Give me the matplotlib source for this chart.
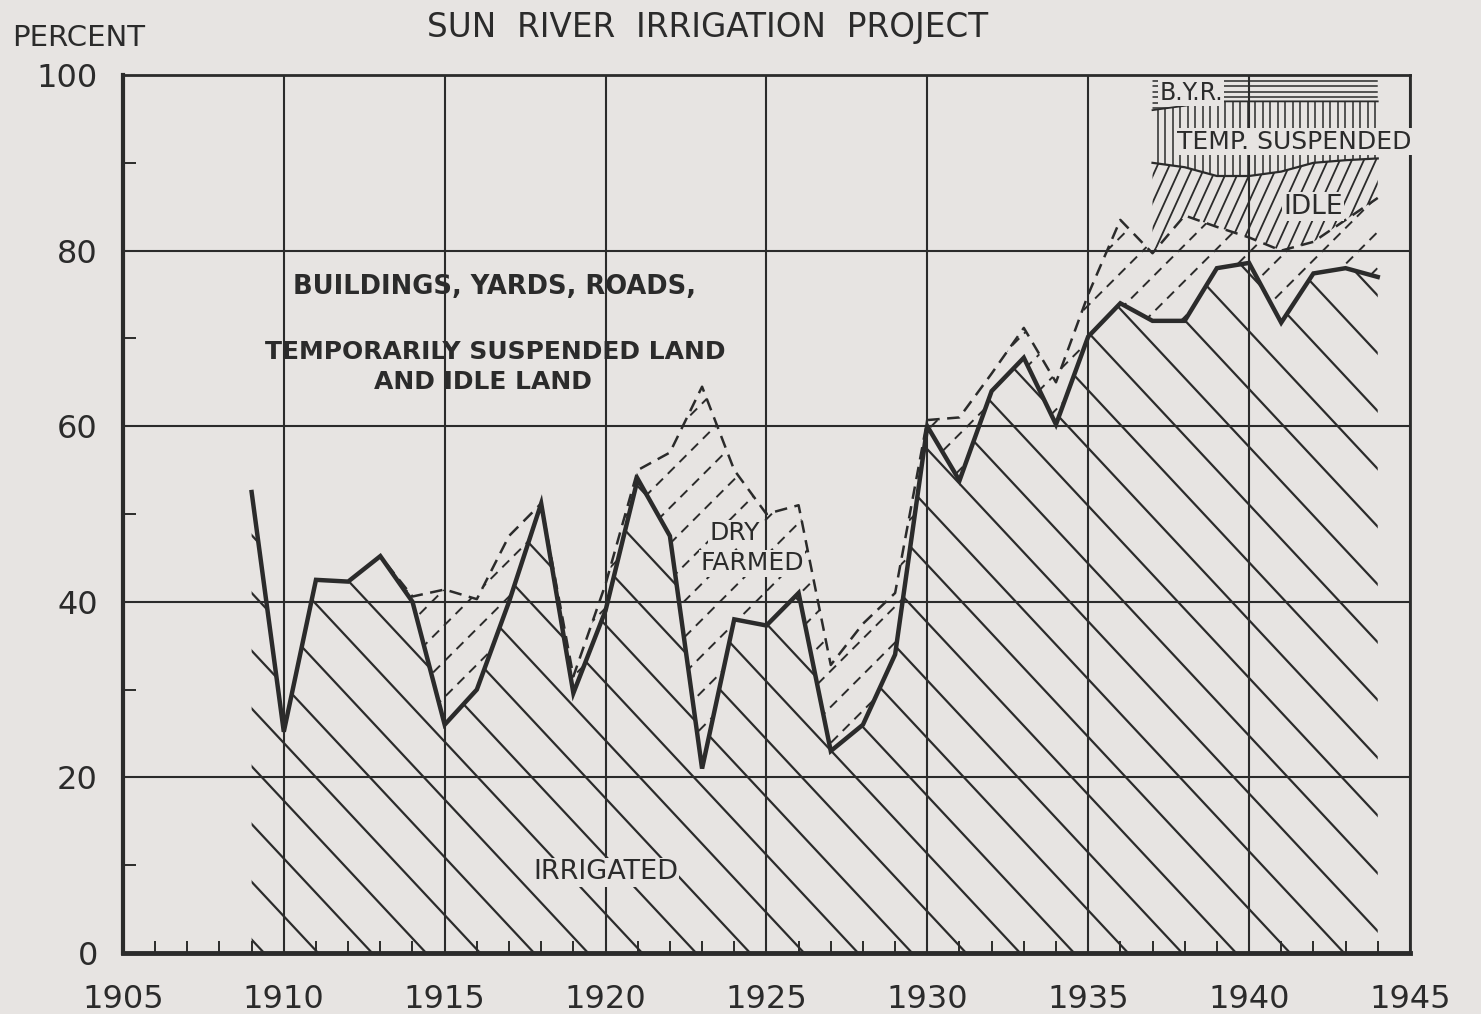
import matplotlib.pyplot as plt
import numpy as np
from matplotlib.collections import LineCollection
from matplotlib.ticker import MultipleLocator

# values (percent of project area)
years = list(range(1909, 1945))
irrigated = [52.5, 25.2, 42.5, 42.3, 45.2, 40.0, 26.0, 30.0, 40.0, 51.2,
             29.6, 39.0, 54.0, 47.5, 21.0, 38.0, 37.3, 41.0, 23.0, 26.0,
             34.0, 60.0, 53.8, 64.0, 67.8, 60.2, 70.2, 74.0, 72.0, 72.0,
             78.0, 78.6, 71.8, 77.4, 78.0, 77.0]
dry_farmed_top = [52.5, 25.2, 42.5, 42.3, 45.2, 40.6, 41.4, 40.3, 47.5, 51.2,
                  31.5, 42.0, 55.0, 57.0, 64.5, 55.0, 50.0, 51.0, 32.8, 37.5,
                  41.0, 60.7, 61.0, 66.0, 71.2, 65.0, 75.0, 83.5, 79.7, 84.0,
                  82.7, 81.5, 80.0, 81.0, 83.5, 86.0]

late_years = list(range(1937, 1945))
idle_top = [90.0, 89.5, 88.5, 88.5, 89.0, 90.0, 90.3, 90.5]
temp_susp_top = [96.0, 96.5, 97.0, 97.0, 97.0, 97.0, 97.0, 97.0]
byr_top = [100, 100, 100, 100, 100, 100, 100, 100]

x_ticks = list(range(1905, 1946, 5))
y_ticks = list(range(0, 101, 20))

INK = "#2b2b2b"
BG = "#e7e4e2"

plt.rcParams['font.family'] = ['DejaVu Sans']

fig = plt.figure(figsize=(14.81, 10.14), dpi=100, facecolor=BG)
ax = fig.add_axes([0.083, 0.0602, 0.869, 0.8658], facecolor=BG)
ax.set_xlim(1905, 1945)
ax.set_ylim(0, 100)


def hatch(poly, step, slope=None, lw=1.6, dashes=None, mode="diag"):
    # draw hatch lines (pixel spacing / pixel slope) clipped to a filled region
    bb = ax.get_window_extent()
    w, h = bb.width, bb.height
    segs = []
    if mode == "horiz":
        for y in np.arange(1.0, 0, -step / h):
            segs.append([(0, y), (1, y)])
    elif mode == "vert":
        for x in np.arange(0, 1, step / w):
            segs.append([(x, 0), (x, 1)])
    else:
        run = (h / slope) / w
        for x0 in np.arange(-abs(run) - 0.05, 1 + abs(run) + 0.05, step / w):
            segs.append([(x0, 0), (x0 + run, 1)])
    lc = LineCollection(segs, colors=INK, linewidths=lw, transform=ax.transAxes)
    if dashes:
        lc.set_linestyle((0, dashes))
    lc.set_clip_path(poly.get_paths()[0], ax.transData)
    ax.add_collection(lc)


late_dry = dry_farmed_top[years.index(1937):]

p_irr = ax.fill_between(years, 0, irrigated, facecolor="none", edgecolor="none")
p_dry = ax.fill_between(years, irrigated, dry_farmed_top, facecolor="none", edgecolor="none")
p_idle = ax.fill_between(late_years, late_dry, idle_top, facecolor="none", edgecolor="none")
p_temp = ax.fill_between(late_years, idle_top, temp_susp_top, facecolor="none", edgecolor="none")
p_byr = ax.fill_between(late_years, temp_susp_top, byr_top, facecolor="none", edgecolor="none")

hatch(p_irr, 54, slope=-1.07, lw=1.6)
hatch(p_dry, 36, slope=1.0, lw=1.4, dashes=(5, 3.5))
hatch(p_idle, 12, slope=2.2, lw=1.3)
hatch(p_temp, 7.5, mode="vert", lw=1.1)
hatch(p_byr, 5.5, mode="horiz", lw=1.1)

ax.plot(years, dry_farmed_top, color=INK, lw=1.8, ls=(0, (5, 3)))
ax.plot(years, irrigated, color=INK, lw=3.2, solid_joinstyle="miter")
ax.plot(late_years, idle_top, color=INK, lw=1.6)
ax.plot(late_years, temp_susp_top, color=INK, lw=1.3)

# grid and frame
ax.set_xticks(x_ticks)
ax.set_yticks(y_ticks)
ax.xaxis.set_minor_locator(MultipleLocator(1))
ax.yaxis.set_minor_locator(MultipleLocator(10))
ax.grid(True, which="major", color=INK, lw=1.5)
ax.set_axisbelow(True)
ax.tick_params(which="major", length=0, labelsize=23, colors=INK, pad=18)
ax.tick_params(axis="x", which="major", pad=22)
ax.tick_params(which="minor", direction="in", length=9, width=1.4, color=INK,
               top=False, right=False)
for side, lw in [("left", 3.0), ("bottom", 3.5), ("top", 2.0), ("right", 2.0)]:
    ax.spines[side].set_linewidth(lw)
    ax.spines[side].set_color(INK)

# labels
fig.text(0.478, 0.973, "SUN  RIVER  IRRIGATION  PROJECT", ha="center", va="center",
         fontsize=23.5, color=INK)
fig.text(0.008, 0.963, "PERCENT", ha="left", va="center", fontsize=21, color=INK)

lbl = dict(color=INK, ha="center", va="center")
box = dict(facecolor=BG, edgecolor="none", pad=1)
ax.text(1916.56, 75.9, "BUILDINGS, YARDS, ROADS,", fontsize=18.5, fontweight="bold", **lbl)
ax.text(1916.56, 68.5, "TEMPORARILY SUSPENDED LAND", fontsize=18, fontweight="bold", **lbl)
ax.text(1916.2, 65.0, "AND IDLE LAND", fontsize=18, fontweight="bold", **lbl)
ax.text(1924.0, 47.8, "DRY", fontsize=18, bbox=box, **lbl)
ax.text(1924.55, 44.4, "FARMED", fontsize=18, bbox=box, **lbl)
ax.text(1920.0, 9.2, "IRRIGATED", fontsize=19.5, bbox=box, **lbl)
ax.text(1938.2, 98.0, "B.Y.R.", fontsize=17, bbox=box, **lbl)
ax.text(1937.75, 92.4, "TEMP. SUSPENDED", fontsize=18, color=INK, ha="left", va="center",
        clip_on=False, bbox=box)
ax.text(1942.0, 85.0, "IDLE", fontsize=19, bbox=box, **lbl)

fig.savefig("out.png", dpi=100, facecolor=BG)
